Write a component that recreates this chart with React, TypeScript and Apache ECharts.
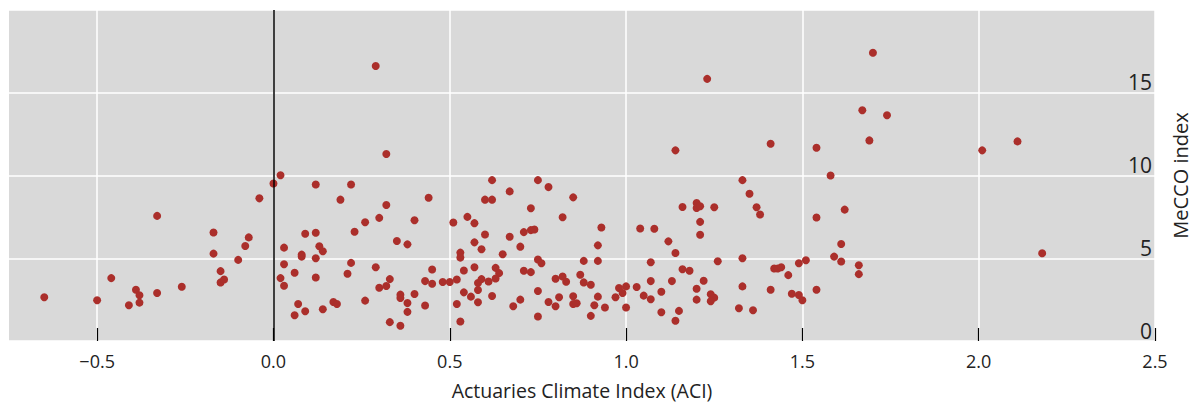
import React, { useEffect, useRef } from "react";
import * as echarts from "echarts";

const aciValues: number[] = [
  -0.65, -0.5, -0.46, -0.39, -0.38, -0.41, -0.38, -0.33, -0.33, -0.26, -0.17, -0.17, -0.15, -0.15, -0.14, -0.1, -0.08, -0.07, -0.04, 0.0, 0.02,
  0.12, 0.22, 0.19, 0.29, 0.32, 0.32, 0.3, 0.26, 0.23, 0.09, 0.12, 0.03, 0.13, 0.14, 0.08, 0.08, 0.12, 0.03, 0.06, 0.02, 0.03, 0.12, 0.22, 0.21,
  0.35, 0.38, 0.4, 0.44, 0.51, 0.29, 0.33, 0.3, 0.32, 0.36, 0.36, 0.4, 0.38, 0.38, 0.33, 0.36, 0.26, 0.17, 0.18, 0.14, 0.07, 0.09, 0.06,
  0.43, 0.45, 0.45, 0.43, 0.48, 0.5, 0.52, 0.52,
  0.53, 0.53, 0.53, 0.54, 0.54, 0.55, 0.57, 0.57, 0.59, 0.6, 0.6, 0.62, 0.62, 0.57, 0.56, 0.58, 0.59, 0.58, 0.58, 0.61, 0.62, 0.63, 0.64, 0.63,
  0.65, 0.67, 0.67, 0.68, 0.7, 0.7, 0.71, 0.73, 0.73, 0.74, 0.71, 0.73, 0.75, 0.78, 0.75, 0.76, 0.75, 0.75, 0.78, 0.8, 0.81, 0.8, 0.82, 0.83,
  0.82, 0.85, 0.85, 0.85, 0.86, 0.87, 0.88, 0.88, 0.9, 0.9, 0.91, 0.92, 0.92, 0.92, 0.93, 0.94, 0.97, 0.98, 0.99, 1.0, 1.0, 1.03,
  1.04, 1.05, 1.07, 1.07, 1.07, 1.08, 1.1, 1.1, 1.12, 1.13, 1.14, 1.14, 1.14, 1.15, 1.16, 1.16, 1.18, 1.2, 1.2, 1.21, 1.21, 1.21, 1.23, 1.25,
  1.26, 1.22, 1.2, 1.2, 1.24, 1.25, 1.24, 1.33, 1.35, 1.37, 1.38, 1.41, 1.33, 1.33, 1.32, 1.36, 1.41, 1.42, 1.43, 1.44, 1.46, 1.47, 1.49,
  1.49, 1.5, 1.51, 1.54, 1.54, 1.54,
  1.58, 1.62, 1.61, 1.59, 1.61, 1.66, 1.66, 1.67, 1.69, 1.7, 1.74, 2.01, 2.11, 2.18,
];

const meccoValues: number[] = [
  2.64, 2.46, 3.8, 3.1, 2.76, 2.16, 2.32, 7.56, 2.9, 3.28, 6.56, 5.28, 4.22, 3.54, 3.72, 4.9, 5.74, 6.26, 8.62, 9.52, 10.02,
  9.46, 9.46, 8.54, 16.62, 11.3, 8.22, 7.44, 7.18, 6.6, 6.48, 6.54, 5.64, 5.72, 5.42, 5.22, 5.1, 5.0, 4.64, 4.12, 3.8, 3.34, 3.84, 4.72, 4.06,
  6.04, 5.84, 7.3, 8.66, 7.16, 4.46, 3.74, 3.22, 3.32, 2.8, 2.6, 2.84, 2.3, 1.76, 1.14, 0.92, 2.44, 2.36, 2.24, 1.92, 2.24, 1.8, 1.56,
  3.62, 4.32, 3.46, 2.14, 3.56, 3.56, 3.72, 2.24,
  5.34, 5.04, 1.18, 4.26, 2.94, 7.5, 7.12, 5.96, 5.54, 6.44, 8.54, 8.54, 9.72, 4.46, 2.68, 3.5, 3.74, 3.08, 2.34, 3.6, 2.72, 4.42, 4.1, 3.78,
  5.24, 9.04, 6.3, 2.1, 2.5, 5.7, 6.58, 8.02, 6.7, 6.74, 4.24, 4.16, 9.72, 9.3, 4.92, 4.7, 3.02, 1.48, 2.36, 2.1, 2.64, 3.76, 3.9, 3.58,
  7.48, 8.68, 2.7, 2.24, 2.28, 4.0, 4.84, 3.54, 3.4, 1.52, 2.16, 2.68, 4.84, 5.78, 6.86, 2.02, 2.64, 3.2, 2.9, 3.3, 2.02, 3.26,
  6.8, 2.74, 4.76, 3.62, 2.52, 6.78, 2.98, 1.74, 6.02, 3.62, 11.52, 5.32, 1.22, 1.82, 8.1, 4.34, 4.24, 8.34, 8.04, 8.14, 7.2, 6.42, 15.84, 8.08,
  4.82, 3.64, 3.16, 2.5, 2.82, 2.62, 2.4, 9.72, 8.9, 8.08, 7.64, 11.92, 5.0, 3.3, 1.98, 1.86, 3.1, 4.38, 4.38, 4.46, 3.98, 2.86, 4.7,
  2.78, 2.46, 4.88, 11.68, 7.46, 3.1,
  10.0, 7.94, 5.86, 5.1, 4.8, 4.58, 4.04, 13.94, 12.12, 17.42, 13.64, 11.52, 12.06, 5.3,
];

const xTickValues: number[] = [-0.5, 0, 0.5, 1.0, 1.5, 2.0, 2.5];

const FONT = "'Open Sans', 'Noto Sans', sans-serif";

export default function App() {
  const ref = useRef<HTMLDivElement>(null);

  useEffect(() => {
    document.body.style.margin = "0";
    if (!ref.current) return;
    const chart = echarts.init(ref.current, undefined, { renderer: "svg" });
    const points = aciValues.map((x, i) => [x, meccoValues[i]]);
    const fmtX = (v: number) => (v < 0 ? "\u2212" + Math.abs(v).toFixed(1) : v.toFixed(1));
    chart.setOption({
      animation: false,
      backgroundColor: "#ffffff",
      textStyle: { fontFamily: FONT },
      grid: {
        left: 9,
        right: 38,
        top: 10,
        bottom: 64,
        show: true,
        backgroundColor: "#d9d9d9",
        borderWidth: 0,
        containLabel: false,
        outerBoundsMode: "none",
      },
      xAxis: {
        type: "value",
        min: -0.75,
        max: 2.5,
        name: "Actuaries Climate Index (ACI)",
        nameLocation: "middle",
        nameGap: 39,
        nameTextStyle: { fontSize: 19.5, color: "#222", fontFamily: FONT },
        axisLine: { show: false },
        axisTick: {
          show: true,
          inside: true,
          length: 13,
          lineStyle: { color: "#000", width: 1.2 },
          customValues: xTickValues,
        },
        axisLabel: {
          fontSize: 18,
          color: "#222",
          margin: 11,
          fontFamily: FONT,
          formatter: fmtX,
          customValues: xTickValues,
        },
        splitLine: { show: true, lineStyle: { color: "#ffffff", width: 1.5 } },
      },
      yAxis: {
        type: "value",
        position: "right",
        min: 0,
        max: 20,
        interval: 5,
        name: "MeCCO index",
        nameLocation: "middle",
        nameRotate: 90,
        nameGap: 15,
        nameTextStyle: { fontSize: 20, color: "#222", fontFamily: FONT },
        axisLine: { show: false },
        axisTick: { show: false },
        axisLabel: {
          inside: true,
          verticalAlign: "bottom",
          margin: 3,
          fontSize: 21,
          color: "#222",
          fontFamily: FONT,
          showMaxLabel: false,
        },
        splitLine: { show: true, lineStyle: { color: "#ffffff", width: 1.5 } },
      },
      series: [
        {
          type: "scatter",
          data: points,
          symbol: "circle",
          symbolSize: 8,
          itemStyle: { color: "#ab2f2b", opacity: 1 },
          markLine: {
            silent: true,
            symbol: ["none", "none"],
            label: { show: false },
            lineStyle: { color: "#000", width: 1.5, type: "solid" },
            data: [{ xAxis: 0 }],
          },
          z: 3,
        },
      ],
    });
    return () => chart.dispose();
  }, []);

  return <div ref={ref} style={{ width: 1193, height: 405 }} />;
}
